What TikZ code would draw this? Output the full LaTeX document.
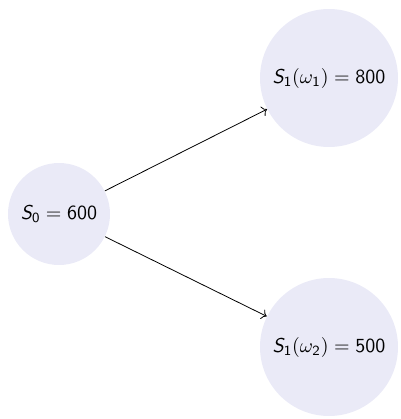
\documentclass[tikz,border=0pt]{standalone}
\usepackage{xcolor}
\usepackage{tikz}
\usetikzlibrary{arrows.meta,positioning}
\usepackage{amsmath,amssymb}
\DeclareMathAlphabet{\mathsfit}{OT1}{cmss}{m}{sl}
\definecolor{statefill}{RGB}{234,234,247}

\begin{document}
\begin{tikzpicture}[x=0.5pt, y=-0.5pt,
  state/.style={circle, fill=statefill, inner sep=0pt,
    font=\fontsize{10}{12}\selectfont},
  rel/.style={draw, ->, line width=0.4pt}
]
  \useasboundingbox (0,0) rectangle (401,419);
  \node[state, minimum size=51pt] (s0) at (59,214) {$\mathsfit{S}_{\mathsf{0}} = \mathsf{600}$};
  \node[state, minimum size=69pt] (up) at (329,78) {$\mathsfit{S}_{\mathsf{1}}(\omega_{\mathsf{1}}) = \mathsf{800}$};
  \node[state, minimum size=69pt] (down) at (329,347) {$\mathsfit{S}_{\mathsf{1}}(\omega_{\mathsf{2}}) = \mathsf{500}$};
  \draw[rel] (s0) -- (up);
  \draw[rel] (s0) -- (down);
\end{tikzpicture}
\end{document}
